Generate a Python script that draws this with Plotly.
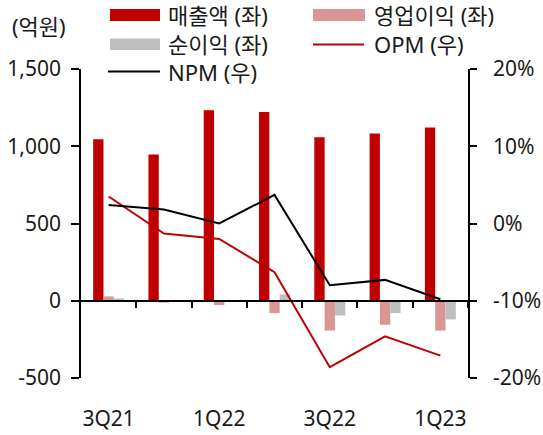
import plotly.graph_objects as go

categories = ['3Q21', '4Q21', '1Q22', '2Q22', '3Q22', '4Q22', '1Q23']
sales = [1045, 947, 1233, 1222, 1058, 1083, 1122]
op_profit = [28, -12, -28, -80, -193, -155, -193]
net_profit = [15, -3, 0, 41, -95, -80, -121]
opm = [3.5, -1.3, -2.0, -6.3, -18.6, -14.6, -17.1]
npm = [2.4, 1.8, 0.0, 3.7, -8.0, -7.3, -9.8]

series_names = ['매출액 (좌)', '영업이익 (좌)', '순이익 (좌)', 'OPM (우)', 'NPM (우)']
unit_label = '(억원)'
xtick_labels = ['3Q21', '1Q22', '3Q22', '1Q23']
left_ticks = [-500, 0, 500, 1000, 1500]
left_labels = ['-500', '0', '500', '1,000', '1,500']
right_ticks = [-20, -10, 0, 10, 20]
right_labels = ['-20%', '-10%', '0%', '10%', '20%']

RED = '#C00000'
PINK = '#D99694'
GRAY = '#BFBFBF'
FONT = 'Noto Sans, Noto Sans CJK KR, sans-serif'
FS = 21
LFS = 22
TXT = '#1a1a1a'

W, H = 543, 435
L, R, T, B = 81, 75, 69, 57
PW, PH = W - L - R, H - T - B


def px(x):
    return (x - L) / PW


def py(y):
    return (H - B - y) / PH


fig = go.Figure()
fig.add_trace(go.Bar(x=categories, y=sales, name=series_names[0], marker_color=RED,
                     marker_line_width=0))
fig.add_trace(go.Bar(x=categories, y=op_profit, name=series_names[1], marker_color=PINK,
                     marker_line_width=0))
fig.add_trace(go.Bar(x=categories, y=net_profit, name=series_names[2], marker_color=GRAY,
                     marker_line_width=0))
fig.add_trace(go.Scatter(x=categories, y=opm, name=series_names[3], mode='lines',
                         line=dict(color=RED, width=2), yaxis='y2'))
fig.add_trace(go.Scatter(x=categories, y=npm, name=series_names[4], mode='lines',
                         line=dict(color='black', width=2), yaxis='y2'))
# helper axis carrying the zero line with category-boundary ticks
fig.add_trace(go.Scatter(x=[0], y=[0], mode='markers', marker=dict(opacity=0),
                         xaxis='x2', yaxis='y', hoverinfo='skip', showlegend=False))

fig.update_layout(
    template='none',
    width=W, height=H, autosize=False,
    margin=dict(l=L, r=R, t=T, b=B, pad=0),
    paper_bgcolor='white', plot_bgcolor='white',
    showlegend=False,
    barmode='group', bargap=0.44, bargroupgap=0,
    font=dict(family=FONT, size=FS, color=TXT),
    xaxis=dict(type='category', range=[-0.5, 6.5], tickvals=xtick_labels,
               ticktext=xtick_labels, ticks='', showline=False, showgrid=False,
               zeroline=False, ticklabelstandoff=26, automargin=False,
               tickfont=dict(family=FONT, size=FS, color=TXT)),
    xaxis2=dict(type='linear', overlaying='x', anchor='free', position=0.25,
                range=[-0.5, 6.5], tickvals=[i + 0.5 for i in range(len(categories))],
                showticklabels=False, ticks='outside', ticklen=6, tickwidth=1.5,
                tickcolor='black', showline=True, linecolor='black', linewidth=1.8,
                showgrid=False, zeroline=False, automargin=False),
    yaxis=dict(range=[-500, 1500], tickvals=left_ticks, ticktext=left_labels,
               ticks='outside', ticklen=8, tickwidth=1.5, tickcolor='black',
               showline=True, linecolor='black', linewidth=1.5, showgrid=False,
               zeroline=False, ticklabelstandoff=6, automargin=False,
               tickfont=dict(family=FONT, size=FS, color=TXT)),
    yaxis2=dict(range=[-20, 20], tickvals=right_ticks, ticktext=right_labels,
                overlaying='y', side='right', ticks='outside', ticklen=7,
                tickwidth=1.5, tickcolor='black', showline=True, linecolor='black',
                linewidth=1.5, showgrid=False, zeroline=False, ticklabelstandoff=12,
                automargin=False,
                tickfont=dict(family=FONT, size=FS, color=TXT)),
)

shapes = [
    dict(type='rect', xref='paper', yref='paper', x0=px(110), x1=px(160), y0=py(21), y1=py(9),
         fillcolor=RED, line_width=0),
    dict(type='rect', xref='paper', yref='paper', x0=px(313), x1=px(365), y0=py(21), y1=py(9),
         fillcolor=PINK, line_width=0),
    dict(type='rect', xref='paper', yref='paper', x0=px(110), x1=px(160), y0=py(50), y1=py(38.5),
         fillcolor=GRAY, line_width=0),
    dict(type='line', xref='paper', yref='paper', x0=px(313), x1=px(364), y0=py(44.5), y1=py(44.5),
         line=dict(color=RED, width=2)),
    dict(type='line', xref='paper', yref='paper', x0=px(108), x1=px(160), y0=py(71.5), y1=py(71.5),
         line=dict(color='black', width=2)),
]
ann_pos = [(166, 15), (372, 15), (166, 44), (372, 44), (166, 72)]
annotations = [
    dict(text=n, xref='paper', yref='paper', x=px(x), y=py(y), xanchor='left', yanchor='middle',
         showarrow=False, font=dict(family=FONT, size=LFS, color=TXT))
    for n, (x, y) in zip(series_names, ann_pos)
]
annotations.append(dict(text=unit_label, xref='paper', yref='paper', x=px(10), y=py(26),
                        xanchor='left', yanchor='middle', showarrow=False,
                        font=dict(family=FONT, size=LFS, color=TXT)))
fig.update_layout(shapes=shapes, annotations=annotations)

fig.write_html('out.html',
               config={'displayModeBar': False},
               post_script="document.body.style.margin='0px';"
                           "document.body.style.overflow='hidden';")
